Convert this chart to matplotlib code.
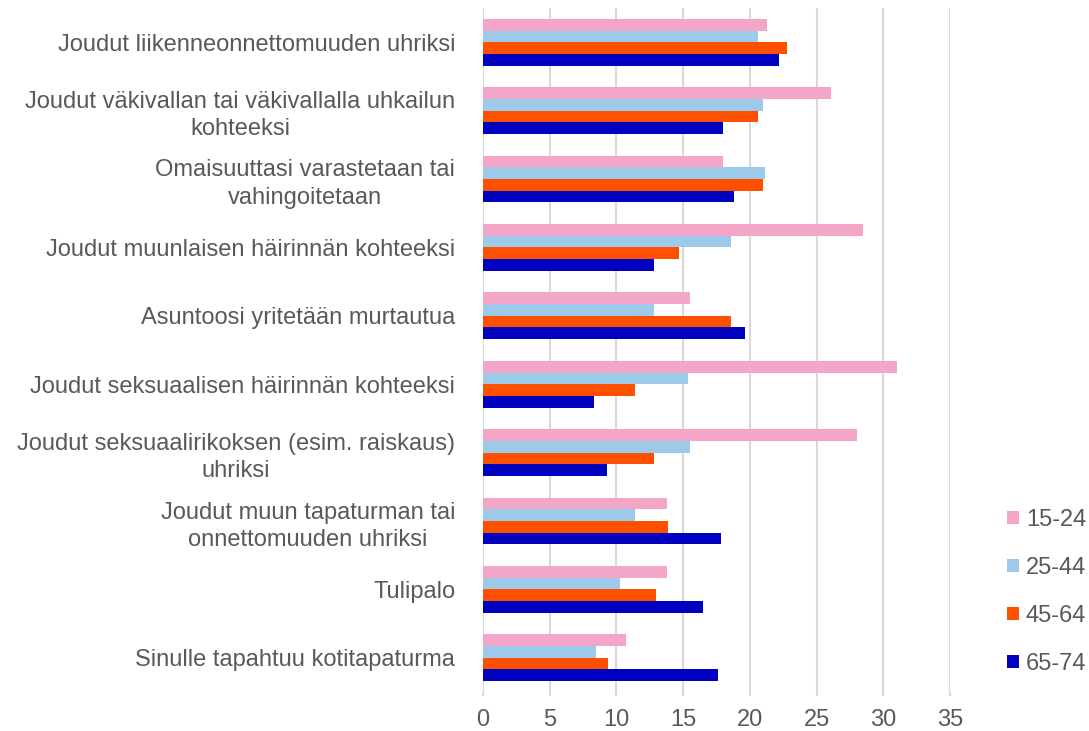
import matplotlib.pyplot as plt
import numpy as np

# Categories (top to bottom) and values per age group
categories = [
    'Joudut liikenneonnettomuuden uhriksi',
    'Joudut väkivallan tai väkivallalla uhkailun\nkohteeksi',
    'Omaisuuttasi varastetaan tai\nvahingoitetaan',
    'Joudut muunlaisen häirinnän kohteeksi',
    'Asuntoosi yritetään murtautua',
    'Joudut seksuaalisen häirinnän kohteeksi',
    'Joudut seksuaalirikoksen (esim. raiskaus)\nuhriksi',
    'Joudut muun tapaturman tai\nonnettomuuden uhriksi',
    'Tulipalo',
    'Sinulle tapahtuu kotitapaturma',
]
series_names = ['15-24', '25-44', '45-64', '65-74']
vals_15_24 = [21.3, 26.1, 18.0, 28.5, 15.5, 31.0, 28.0, 13.8, 13.8, 10.7]
vals_25_44 = [20.6, 21.0, 21.1, 18.6, 12.8, 15.4, 15.5, 11.4, 10.3, 8.5]
vals_45_64 = [22.8, 20.6, 21.0, 14.7, 18.6, 11.4, 12.8, 13.9, 13.0, 9.4]
vals_65_74 = [22.2, 18.0, 18.8, 12.8, 19.6, 8.3, 9.3, 17.8, 16.5, 17.6]
colors = ['#F4A6C9', '#9DC9EA', '#FF5000', '#0000BF']

text_color = '#595959'
plt.rcParams['font.family'] = ['Liberation Sans', 'DejaVu Sans']

fig = plt.figure(figsize=(10.89, 7.31), dpi=100)
ax = fig.add_axes([483 / 1089, 1 - 692 / 731, (950 - 483) / 1089, (692 - 8) / 731])

y = np.arange(len(categories))
h = 0.171
all_vals = [vals_15_24, vals_25_44, vals_45_64, vals_65_74]
for i, (vals, name, c) in enumerate(zip(all_vals, series_names, colors)):
    ax.barh(y + (i - 1.5) * h, vals, height=h, color=c, label=name, zorder=3)

ax.set_ylim(len(categories) - 0.5, -0.5)
ax.set_xlim(0, 35)
ax.set_xticks(np.arange(0, 36, 5))
ax.set_yticks(y)
ax.set_yticklabels(categories, multialignment='center', linespacing=1.3)

ax.grid(axis='x', color='#D9D9D9', linewidth=1.5, zorder=0)
for s in ['top', 'right', 'bottom', 'left']:
    ax.spines[s].set_visible(False)
ax.tick_params(axis='y', length=0, pad=20, labelsize=17, labelcolor=text_color)
ax.tick_params(axis='x', length=3, color='#D9D9D9', width=1.5, pad=9,
               labelsize=17, labelcolor=text_color)

leg = fig.legend(loc='center left', bbox_to_anchor=(1007 / 1089, 1 - 592 / 731),
                 frameon=False, fontsize=17, handlelength=0.5, handleheight=0.5,
                 handletextpad=0.3, labelspacing=1.1, borderpad=0, borderaxespad=0)
for t in leg.get_texts():
    t.set_color(text_color)

fig.savefig('out.png', dpi=100)
